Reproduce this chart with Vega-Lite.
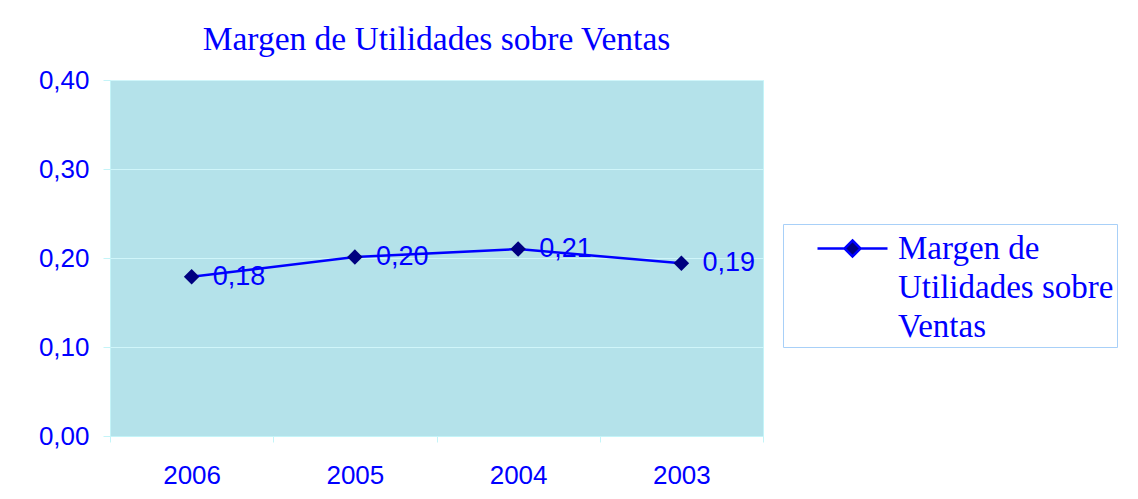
{
  "$schema": "https://vega.github.io/schema/vega-lite/v6.json",
  "autosize": {"type": "none"},
  "padding": {"left": 110, "top": 80, "right": 375, "bottom": 63},
  "width": 653,
  "height": 356,
  "background": "white",
  "title": {
    "text": "Margen de Utilidades sobre Ventas",
    "font": "Liberation Serif",
    "fontSize": 33.5,
    "fontWeight": "normal",
    "color": "#0000ff",
    "anchor": "middle",
    "frame": "group",
    "offset": 10
  },
  "data": {
    "values": [
      {"year": "2006", "value": 0.179, "serie": "Margen de Utilidades sobre Ventas"},
      {"year": "2005", "value": 0.201, "serie": "Margen de Utilidades sobre Ventas"},
      {"year": "2004", "value": 0.210, "serie": "Margen de Utilidades sobre Ventas"},
      {"year": "2003", "value": 0.194, "serie": "Margen de Utilidades sobre Ventas"}
    ]
  },
  "encoding": {
    "x": {
      "field": "year",
      "type": "ordinal",
      "sort": null,
      "scale": {"type": "band", "paddingInner": 0, "paddingOuter": 0},
      "axis": {
        "title": null,
        "labelAngle": 0,
        "tickBand": "extent",
        "labelFont": "Liberation Sans",
        "labelFontSize": 26,
        "labelColor": "#0000ff",
        "labelPadding": 20,
        "domainColor": "#c4f4f8",
        "tickColor": "#c4f4f8",
        "tickSize": 6,
        "grid": false
      }
    },
    "y": {
      "field": "value",
      "type": "quantitative",
      "scale": {"domain": [0, 0.4], "nice": false, "zero": true},
      "axis": {
        "title": null,
        "values": [0, 0.1, 0.2, 0.3, 0.4],
        "format": ".2f",
        "labelFont": "Liberation Sans",
        "labelFontSize": 26,
        "labelColor": "#0000ff",
        "labelPadding": 14,
        "domainColor": "#c4f4f8",
        "tickColor": "#c4f4f8",
        "tickSize": 7,
        "grid": true,
        "gridColor": "#d0f6fa",
        "gridWidth": 1
      }
    }
  },
  "layer": [
    {
      "mark": {"type": "line", "strokeWidth": 2.5},
      "encoding": {
        "color": {
          "field": "serie",
          "type": "nominal",
          "scale": {"range": ["#0000ff"]},
          "legend": {
            "title": null,
            "orient": "none",
            "legendX": 673,
            "legendY": 144,
            "padding": 3,
            "strokeColor": "#a8d0f8",
            "fillColor": "white",
            "symbolType": "M-1.75,0H-0.4M0.4,0H1.75M0,-0.4L0.4,0L0,0.4L-0.4,0Z",
            "symbolSize": 1600,
            "symbolFillColor": "#000080",
            "symbolStrokeColor": "#0000ff",
            "symbolStrokeWidth": 2.5,
            "symbolOffset": 45,
            "labelOffset": 24,
            "labelFont": "Liberation Serif",
            "labelFontSize": 33,
            "labelColor": "#0000ff",
            "labelLimit": 400,
            "labelBaseline": "middle",
            "labelExpr": "['Margen de', 'Utilidades sobre\u00a0\u00a0\u00a0', 'Ventas']",
            "encode": {"labels": {"update": {"lineHeight": {"value": 39}}}}
          }
        }
      }
    },
    {
      "mark": {"type": "point", "shape": "diamond", "filled": true, "size": 240, "color": "#000080", "opacity": 1}
    },
    {
      "mark": {"type": "text", "align": "left", "baseline": "middle", "dx": 21, "dy": 0, "font": "Liberation Sans", "fontSize": 27, "color": "#0000ff"},
      "encoding": {"text": {"field": "value", "type": "quantitative", "format": ".2f"}}
    }
  ],
  "config": {
    "locale": {"number": {"decimal": ",", "thousands": ".", "grouping": [3], "currency": ["", " €"]}},
    "view": {"fill": "#b4e2ea", "stroke": "#c4f4f8", "strokeWidth": 1}
  }
}
